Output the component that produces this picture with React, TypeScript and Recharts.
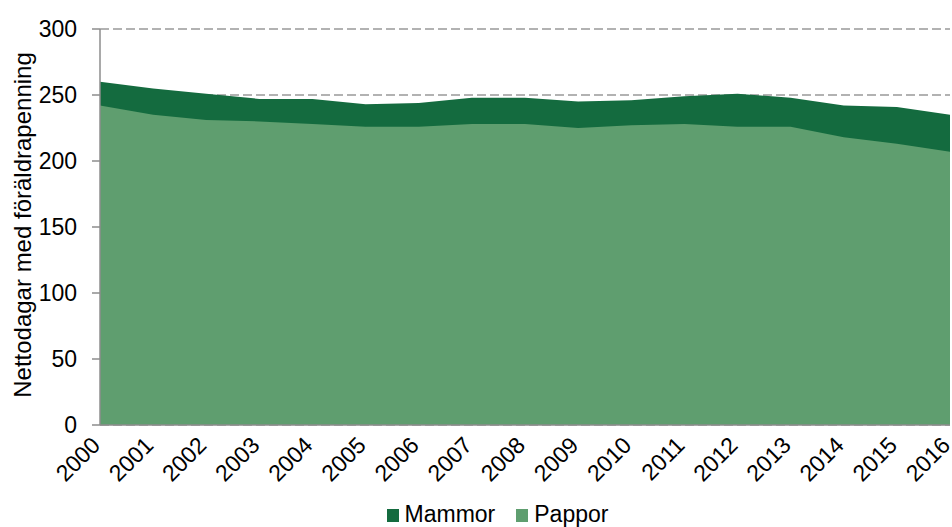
import React from "react";
import {
  AreaChart,
  Area,
  XAxis,
  YAxis,
  CartesianGrid,
  Legend,
} from "recharts";

// years on the x axis
const years = [
  "2000", "2001", "2002", "2003", "2004", "2005", "2006", "2007", "2008",
  "2009", "2010", "2011", "2012", "2013", "2014", "2015", "2016",
];

// net days with parental benefit
const mammor = [260, 255, 251, 247, 247, 243, 244, 248, 248, 245, 246, 249, 251, 248, 242, 241, 235];
const pappor = [242, 235, 231, 230, 228, 226, 226, 228, 228, 225, 227, 228, 226, 226, 218, 213, 207];

const yTicks = [0, 50, 100, 150, 200, 250, 300];

const DARK = "#146b3f";
const LIGHT = "#5f9e6f";
const AXIS = "#8c8c8c";
const FONT = "'Liberation Sans', Arial, sans-serif";

const data = years.map((year, i) => ({
  year,
  Mammor: mammor[i],
  Pappor: pappor[i],
}));

const XTick = (props: any) => {
  const { x, y, payload } = props;
  return (
    <text
      x={0}
      y={0}
      transform={`translate(${x - 4},${y + 8}) rotate(-45)`}
      textAnchor="end"
      dominantBaseline="central"
      fontSize={23}
      fontFamily={FONT}
      fill="#000"
    >
      {payload.value}
    </text>
  );
};

const LegendContent = () => (
  <div
    style={{
      display: "flex",
      justifyContent: "center",
      alignItems: "center",
      fontFamily: FONT,
      fontSize: 23,
      lineHeight: "24px",
      color: "#000",
      height: 28,
      paddingTop: 2,
      paddingLeft: 45,
      boxSizing: "border-box",
    }}
  >
    {[
      { name: "Mammor", color: DARK },
      { name: "Pappor", color: LIGHT },
    ].map((item, i) => (
      <span
        key={item.name}
        style={{ display: "flex", alignItems: "center", marginLeft: i ? 21 : 0 }}
      >
        <span
          style={{
            width: 12,
            height: 13,
            background: item.color,
            marginRight: 6,
            marginTop: 3,
            display: "inline-block",
          }}
        />
        {item.name}
      </span>
    ))}
  </div>
);

export default function App() {
  return (
    <div style={{ position: "absolute", left: 0, top: 0, background: "#fff" }}>
      <AreaChart
        width={952}
        height={527}
        data={data}
        margin={{ top: 29, right: 2, bottom: 0, left: 0 }}
      >
        <CartesianGrid
          horizontal
          vertical={false}
          stroke="#999"
          strokeWidth={1.5}
          strokeDasharray="9 4"
        />
        <XAxis
          dataKey="year"
          height={74}
          interval={0}
          tickLine={false}
          axisLine={{ stroke: AXIS, strokeWidth: 1.5 }}
          tick={<XTick />}
        />
        <YAxis
          width={100}
          domain={[0, 300]}
          ticks={yTicks}
          interval={0}
          tickSize={8}
          tickMargin={15}
          tickLine={{ stroke: AXIS, strokeWidth: 1.5 }}
          axisLine={{ stroke: AXIS, strokeWidth: 1.5 }}
          tick={{ fill: "#000", fontSize: 23, fontFamily: FONT }}
          label={{
            value: "Nettodagar med föräldrapenning",
            angle: -90,
            position: "center",
            dx: -28,
            dy: -2,
            fontSize: 24,
            fontFamily: FONT,
            fill: "#000",
          }}
        />
        <Legend verticalAlign="bottom" height={28} content={<LegendContent />} />
        <Area
          type="linear"
          dataKey="Mammor"
          stroke="none"
          fill={DARK}
          fillOpacity={1}
          isAnimationActive={false}
        />
        <Area
          type="linear"
          dataKey="Pappor"
          stroke="none"
          fill={LIGHT}
          fillOpacity={1}
          isAnimationActive={false}
        />
      </AreaChart>
    </div>
  );
}
